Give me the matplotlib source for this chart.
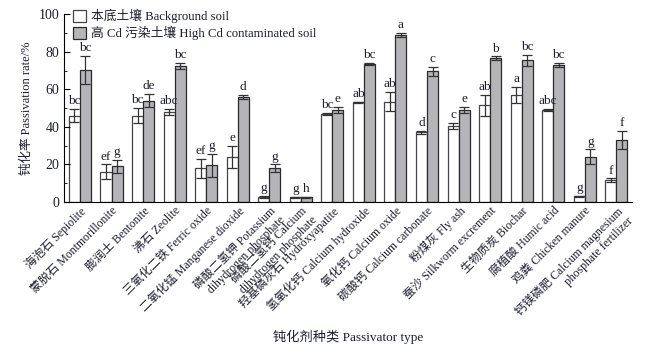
import numpy as np
import matplotlib.pyplot as plt
from matplotlib.ticker import MultipleLocator

plt.rcParams['font.family'] = ['Liberation Serif', 'Noto Sans CJK SC']

# Dati
categorie = [
    "海泡石 Sepiolite",
    "蒙脱石 Montmorillonite",
    "膨润土 Bentonite",
    "沸石 Zeolite",
    "三氧化二铁 Ferric oxide",
    "二氧化锰 Manganese dioxide",
    "磷酸二氢钾 Potassium\ndihydrogen phosphate",
    "磷酸二氢钙 Calcium\ndihydrogen phosphate",
    "羟基磷灰石 Hydroxyapatite",
    "氢氧化钙 Calcium hydroxide",
    "氧化钙 Calcium oxide",
    "碳酸钙 Calcium carbonate",
    "粉煤灰 Fly ash",
    "蚕沙 Silkworm excrement",
    "生物质炭 Biochar",
    "腐植酸 Humic acid",
    "鸡粪 Chicken manure",
    "钙镁磷肥 Calcium magnesium\nphosphate fertilizer",
]
fondo = [46, 16, 46, 48, 18, 24, 2.5, 2.5, 47, 53, 53.5, 37, 40.5, 51.5, 57, 49, 3, 11.5]
fondo_err = [3.5, 4, 4, 1.5, 5, 6, 0.5, 0.4, 0.6, 0.5, 5, 1, 1.5, 5.5, 4.5, 0.6, 0.4, 1]
contaminato = [70.5, 19, 54, 72.5, 19.5, 56, 18, 2.5, 49, 73.5, 89, 69.5, 49, 76.5, 75.5, 73, 24, 33]
contaminato_err = [7.5, 3.5, 3.5, 1.5, 6, 1, 2, 0.3, 1.5, 0.4, 1, 2.5, 1.5, 1, 3, 1, 4, 5]
lettere_fondo = ["bc", "ef", "bc", "abc", "ef", "e", "g", "g", "bc", "ab", "ab", "d", "c", "ab", "a", "abc", "g", "f"]
lettere_cont = ["bc", "g", "de", "bc", "g", "d", "g", "h", "e", "bc", "a", "c", "e", "b", "bc", "bc", "g", "f"]

colore_testo = '#1e1e30'

fig = plt.figure(figsize=(6.55, 3.47), dpi=100)
ax = fig.add_axes([0.098, 0.418, 0.867, 0.541])

x = np.arange(len(categorie))
w = 0.35

ax.bar(x - w / 2, fondo, w, color='white', edgecolor='#444444', linewidth=0.9,
       label='本底土壤 Background soil')
ax.bar(x + w / 2, contaminato, w, color='#b5b5b9', edgecolor='#2a2a2a', linewidth=0.9,
       label='高 Cd 污染土壤 High Cd contaminated soil')
ax.errorbar(x - w / 2, fondo, yerr=fondo_err, fmt='none', ecolor='#333333',
            elinewidth=0.9, capsize=3.5, capthick=0.9)
ax.errorbar(x + w / 2, contaminato, yerr=contaminato_err, fmt='none', ecolor='#333333',
            elinewidth=0.9, capsize=3.5, capthick=0.9)

# Lettere di significatività
for i in range(len(categorie)):
    ax.text(x[i] - w / 2, fondo[i] + fondo_err[i] + 1, lettere_fondo[i],
            ha='center', va='bottom', fontsize=9.5, color=colore_testo)
    ax.text(x[i] + w / 2, contaminato[i] + contaminato_err[i] + 1, lettere_cont[i],
            ha='center', va='bottom', fontsize=9.5, color=colore_testo)

ax.set_xlim(-0.5, len(categorie) - 0.5)
ax.set_ylim(0, 100)
ax.yaxis.set_major_locator(MultipleLocator(20))
ax.yaxis.set_minor_locator(MultipleLocator(10))
ax.tick_params(axis='y', which='major', direction='in', length=4, labelsize=10,
               labelcolor=colore_testo)
ax.tick_params(axis='y', which='minor', direction='in', length=2)
ax.tick_params(axis='x', length=0, pad=2)
ax.spines['top'].set_visible(False)
ax.spines['right'].set_visible(False)

ax.set_xticks(x)
ax.set_xticklabels(categorie, rotation=45, ha='right', rotation_mode='anchor',
                   fontsize=8.5, color=colore_testo, multialignment='right')

ax.set_ylabel('钝化率 Passivation rate/%', fontsize=9, color=colore_testo)
ax.set_xlabel('钝化剂种类 Passivator type', fontsize=9.5, color=colore_testo, labelpad=2)

ax.legend(loc='upper left', bbox_to_anchor=(0.0, 1.075), frameon=False, fontsize=9.2,
          handlelength=1.0, handleheight=1.0, handletextpad=0.4, labelspacing=0.2,
          borderaxespad=0.3, labelcolor=colore_testo)

fig.savefig('out.png', dpi=100)
